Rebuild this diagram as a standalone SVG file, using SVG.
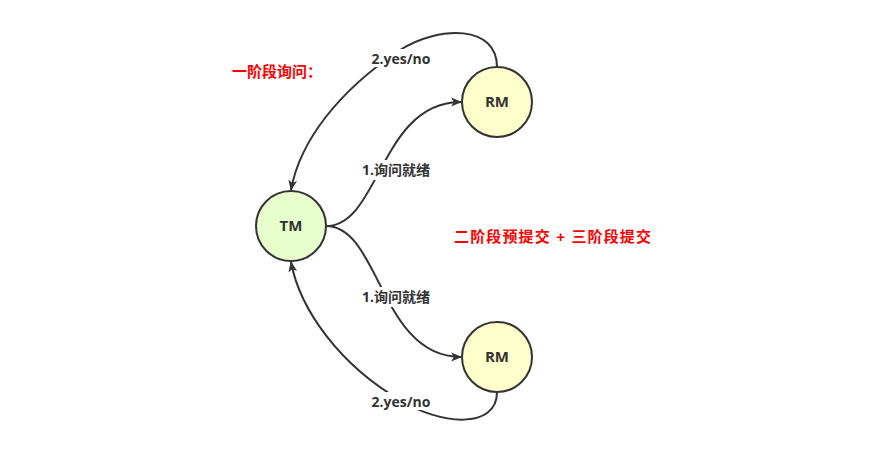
<svg xmlns="http://www.w3.org/2000/svg" width="883" height="456" viewBox="0 0 883 456">
<style>
.node circle{stroke:#333;stroke-width:2}
.tm{fill:#e6ffcc}
.rm{fill:#ffffcc}
.nt{font-family:"Open Sans","Liberation Sans","Noto Sans CJK SC",sans-serif;font-size:15px;font-weight:bold;fill:#333;text-anchor:middle}
.edge{fill:none;stroke:#333;stroke-width:2}
.lbl{font-family:"Open Sans","Liberation Sans","Noto Sans CJK SC",sans-serif;font-size:14px;font-weight:bold;fill:#333;text-anchor:middle}
.lb{fill:#fff}
.red{font-family:"Liberation Sans","Noto Sans CJK SC",sans-serif;font-size:15px;font-weight:bold;fill:#ff0000}
</style>
<defs>
<marker id="arr" viewBox="0 0 10 10" refX="9" refY="5" markerWidth="11" markerHeight="11" orient="auto" markerUnits="userSpaceOnUse">
<path d="M0,1 L10,5 L0,9 L2.5,5 Z" fill="#333"/>
</marker>
</defs>
<rect width="883" height="456" fill="#fff"/>
<g id="connectors">
<path class="edge" d="M326,226 C380,226 380,102 461,102" marker-end="url(#arr)"/>
<path class="edge" d="M497,67 C497,25 440,25 400,50 C340,90 300,140 291,190" marker-end="url(#arr)"/>
<path class="edge" d="M326,226 C380,226 380,357 461,357" marker-end="url(#arr)"/>
<path class="edge" d="M497,392 C497,430 440,425 400,400 C340,365 300,310 291,262" marker-end="url(#arr)"/>
<rect class="lb" x="356" y="160" width="80" height="20"/>
<text class="lbl" x="396" y="175">1.询问就绪</text>
<rect class="lb" x="366" y="49" width="70" height="18"/>
<text class="lbl" x="401" y="64">2.yes/no</text>
<rect class="lb" x="356" y="287" width="80" height="20"/>
<text class="lbl" x="396" y="302">1.询问就绪</text>
<rect class="lb" x="366" y="392" width="70" height="18"/>
<text class="lbl" x="401" y="407">2.yes/no</text>
</g>
<g id="TM" class="node"><circle class="tm" cx="291" cy="226" r="35"/><text class="nt" x="291" y="231">TM</text></g>
<g id="RM1" class="node"><circle class="rm" cx="497" cy="102" r="35"/><text class="nt" x="497" y="107">RM</text></g>
<g id="RM2" class="node"><circle class="rm" cx="497" cy="357" r="35"/><text class="nt" x="497" y="362">RM</text></g>
<text class="red" x="232" y="77">一阶段询问：</text>
<text class="red" x="454" y="242" textLength="197" lengthAdjust="spacing">二阶段预提交 + 三阶段提交</text>
</svg>
